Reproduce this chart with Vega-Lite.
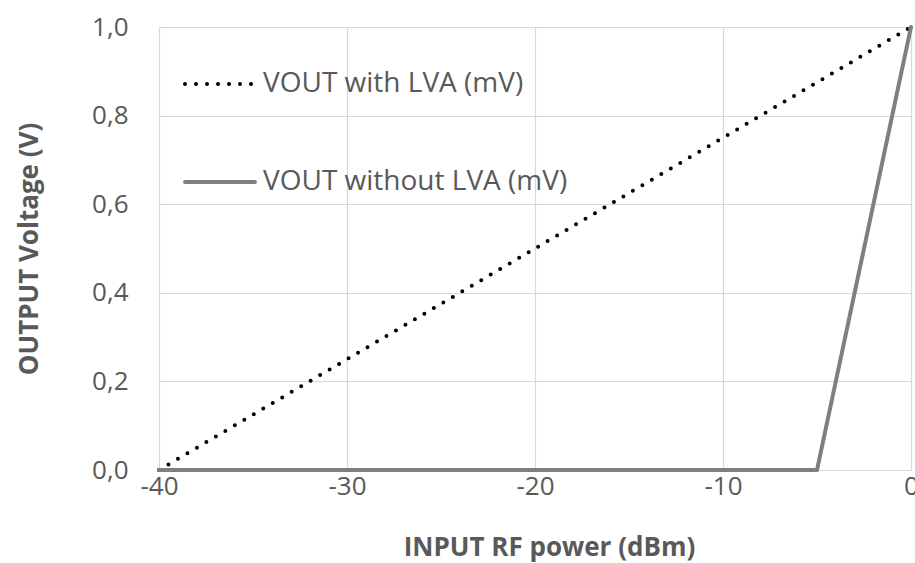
{
  "$schema": "https://vega.github.io/schema/vega-lite/v6.json",
  "autosize": "none",
  "width": 752,
  "height": 443,
  "padding": {"left": 159, "top": 27, "right": 4, "bottom": 93},
  "background": "white",
  "config": {"view": {"stroke": null}, "font": "Open Sans"},
  "data": {"values": [
    {"p": -40, "v": 0, "s": "VOUT with LVA (mV)"},
    {"p": 0, "v": 1, "s": "VOUT with LVA (mV)"},
    {"p": -40, "v": 0, "s": "VOUT without LVA (mV)"},
    {"p": -5, "v": 0, "s": "VOUT without LVA (mV)"},
    {"p": 0, "v": 1, "s": "VOUT without LVA (mV)"}
  ]},
  "mark": {"type": "line", "strokeWidth": 4, "strokeCap": "round", "clip": false},
  "encoding": {
    "x": {"field": "p", "type": "quantitative", "scale": {"domain": [-40, 0], "nice": false},
      "axis": {"values": [-40, -30, -20, -10, 0], "title": "INPUT RF power (dBm)", "labelExpr": "'' + datum.value",
        "domain": false, "ticks": false, "gridColor": "#d9d9d9", "gridWidth": 1.2,
        "labelFontSize": 26, "labelColor": "#595959", "labelPadding": 3, "labelFlush": false,
        "titleFontSize": 26, "titleFontWeight": "bold", "titleColor": "#595959", "titlePadding": 35, "titleX": 390}},
    "y": {"field": "v", "type": "quantitative", "scale": {"domain": [0, 1], "nice": false},
      "axis": {"values": [0, 0.2, 0.4, 0.6, 0.8, 1.0], "title": "OUTPUT Voltage (V)", "labelExpr": "replace(format(datum.value, '.1f'), '.', ',')",
        "domain": false, "ticks": false, "gridColor": "#d9d9d9", "gridWidth": 1.2,
        "labelFontSize": 26, "labelColor": "#595959", "labelPadding": 31,
        "titleFontSize": 26, "titleFontWeight": "bold", "titleColor": "#595959", "titlePadding": 49}},
    "color": {"field": "s", "type": "nominal",
      "scale": {"domain": ["VOUT with LVA (mV)", "VOUT without LVA (mV)"], "range": ["#000000", "#7f7f7f"]},
      "legend": {"orient": "none", "legendX": 24, "legendY": 20, "title": null, "symbolType": "stroke",
        "symbolSize": 4900, "symbolStrokeWidth": 4, "labelFontSize": 28, "labelColor": "#595959",
        "rowPadding": 47, "labelOffset": 6, "labelLimit": 0,
        "encode": {"symbols": {"update": {"strokeCap": {"value": "round"}}}}}},
    "strokeDash": {"field": "s", "type": "nominal",
      "scale": {"domain": ["VOUT with LVA (mV)", "VOUT without LVA (mV)"], "range": [[0, 11], [1, 0]]}}
  }
}
